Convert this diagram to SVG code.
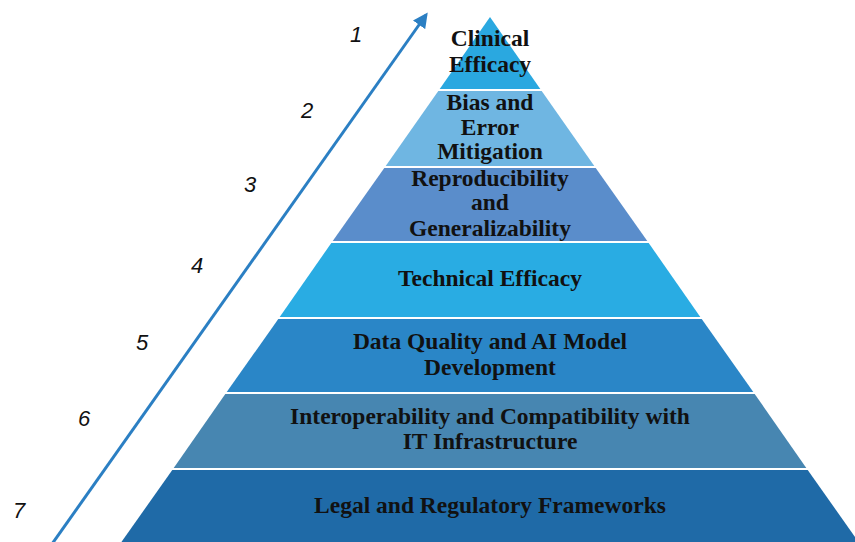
<svg xmlns="http://www.w3.org/2000/svg" width="855" height="542" viewBox="0 0 855 542">
<defs>
<style>
.lbl{font-family:"Liberation Serif","Times New Roman",serif;font-weight:bold;font-size:23.5px;fill:#111;text-anchor:middle}
.num{font-family:"Liberation Sans",Arial,sans-serif;font-style:italic;font-size:22px;fill:#111;text-anchor:middle}
.sep{stroke:#fff;stroke-width:2}
</style>
<marker id="ah" viewBox="0 0 10 10" refX="8" refY="5" markerWidth="5" markerHeight="5" orient="auto" markerUnits="strokeWidth">
<path d="M0,0 L10,5 L0,10 z" fill="#2b7fc3"/>
</marker>
</defs>
<rect width="855" height="542" fill="#fff"/>
<g id="layer1"><polygon points="490,17 439,90 541,90" fill="#2aa8e0"/><text class="lbl" x="490" y="46">Clinical</text><text class="lbl" x="490" y="72">Efficacy</text></g>
<g id="layer2"><polygon points="439,90 541,90 595,167 385,167" fill="#6fb6e2"/><text class="lbl" x="490" y="110">Bias and</text><text class="lbl" x="490" y="135">Error</text><text class="lbl" x="490" y="159">Mitigation</text></g>
<g id="layer3"><polygon points="385,167 595,167 648,242 332,242" fill="#5a8dcb"/><text class="lbl" x="490" y="186">Reproducibility</text><text class="lbl" x="490" y="210">and</text><text class="lbl" x="490" y="236">Generalizability</text></g>
<g id="layer4"><polygon points="332,242 648,242 701,318 279,318" fill="#29ace3"/><text class="lbl" x="490" y="286">Technical Efficacy</text></g>
<g id="layer5"><polygon points="279,318 701,318 754,393 226,393" fill="#2a86c7"/><text class="lbl" x="490" y="349">Data Quality and AI Model</text><text class="lbl" x="490" y="375">Development</text></g>
<g id="layer6"><polygon points="226,393 754,393 807,469 173,469" fill="#4786b1"/><text class="lbl" x="490" y="424">Interoperability and Compatibility with</text><text class="lbl" x="490" y="449">IT Infrastructure</text></g>
<g id="layer7"><polygon points="173,469 807,469 860,544 120,544" fill="#1f6aa7"/><text class="lbl" x="490" y="513">Legal and Regulatory Frameworks</text></g>
<g id="separators">
<line class="sep" x1="430" y1="90" x2="550" y2="90"/>
<line class="sep" x1="375" y1="167" x2="605" y2="167"/>
<line class="sep" x1="322" y1="242" x2="658" y2="242"/>
<line class="sep" x1="269" y1="318" x2="711" y2="318"/>
<line class="sep" x1="216" y1="393" x2="764" y2="393"/>
<line class="sep" x1="163" y1="469" x2="817" y2="469"/>
</g>
<g id="connectors"><line x1="52" y1="544" x2="426" y2="15" stroke="#2b7fc3" stroke-width="3" marker-end="url(#ah)"/></g>
<g id="numbers">
<text class="num" x="356" y="42">1</text>
<text class="num" x="307" y="118">2</text>
<text class="num" x="250" y="192">3</text>
<text class="num" x="197" y="273">4</text>
<text class="num" x="142" y="350">5</text>
<text class="num" x="84" y="426">6</text>
<text class="num" x="19" y="518">7</text>
</g>
</svg>
